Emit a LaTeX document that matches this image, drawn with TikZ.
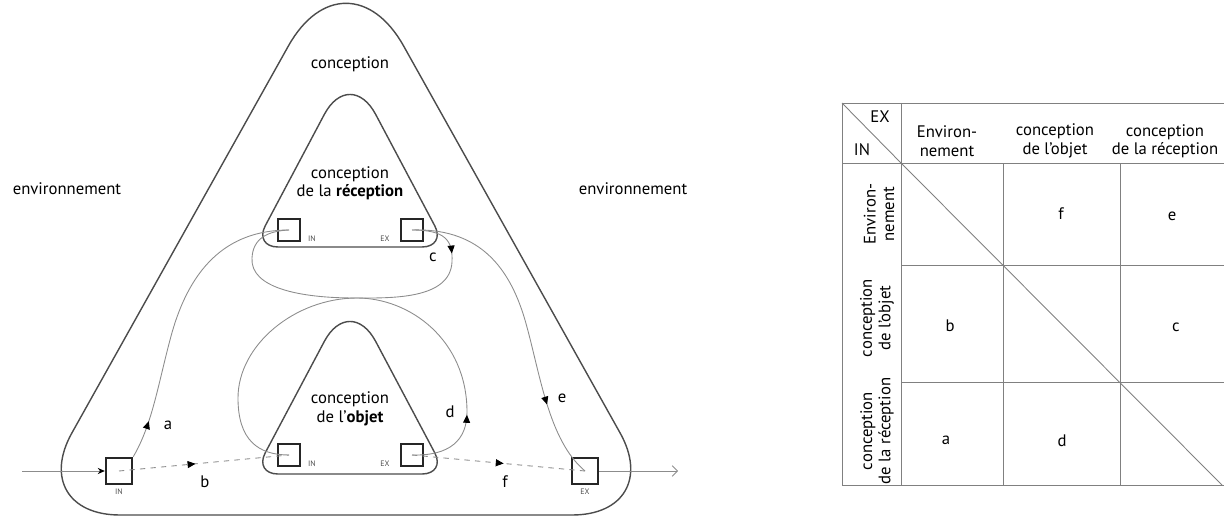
\documentclass[tikz,border=0pt]{standalone}
\usepackage{fontspec}
\setmainfont{PT Sans}
\usetikzlibrary{arrows.meta,decorations.markings,positioning}

\begin{document}
\begin{tikzpicture}[x=0.02cm,y=-0.02cm,
    every node/.style={font=\fontsize{9.5pt}{10.5pt}\selectfont},
    zone/.style={draw=black!70,line width=0.8pt},
    port/.style={draw=black!85,line width=1.1pt,minimum size=0.43cm,inner sep=0pt},
    bigport/.style={port,minimum size=0.53cm},
    tag/.style={font=\fontsize{4.5pt}{5pt}\selectfont,inner sep=0pt,text=black!70},
    flow/.style={draw=black!45,line width=0.5pt},
    midarrow/.style={postaction={decorate},decoration={markings,
        mark=at position #1 with {\arrow[black]{Triangle[length=4.5pt,width=4pt]}}}},
    tabline/.style={draw=black!50,line width=0.5pt}]
    \useasboundingbox (0,0) rectangle (1224,527);

    % zones
    \draw[zone] (346,515) [rounded corners=1.88cm] -- (26,515)
        [rounded corners=2.36cm] -- (346,-57) [rounded corners=1.88cm] -- (666,515) -- cycle;
    \draw[zone] (350,247) [rounded corners=0.48cm] -- (254,247)
        [rounded corners=1.1cm] -- (350,66) [rounded corners=0.48cm] -- (446,247) -- cycle;
    \draw[zone] (350,474) [rounded corners=0.48cm] -- (254,474)
        [rounded corners=1.1cm] -- (350,293) [rounded corners=0.48cm] -- (446,474) -- cycle;

    \node (envleft) at (67,189) {environnement};
    \node (envright) at (633,189) {environnement};
    \node (conc) at (350,64) {conception};
    \node[align=center] (rectxt) at (350,183) {conception\\de la \textbf{réception}};
    \node[align=center] (objtxt) at (350,409) {conception\\de l'\textbf{objet}};

    % ports
    \node[bigport] (envin) at (119,471) {};
    \node[bigport] (envex) at (585,471) {};
    \node[port] (recin) at (289,230) {};
    \node[port] (recex) at (412,230) {};
    \node[port] (objin) at (289,455) {};
    \node[port] (objex) at (412,455) {};
    \coordinate (axisstart) at (22,471);
    \coordinate (axisend) at (678,471);

    \node[tag,anchor=north] (envinlbl) at ([yshift=-2pt]envin.south) {IN};
    \node[tag,anchor=north] (envexlbl) at ([yshift=-2pt]envex.south) {EX};
    \node[tag,anchor=south west] (recinlbl) at ([xshift=4pt]recin.south east) {IN};
    \node[tag,anchor=south east] (recexlbl) at ([xshift=-6pt]recex.south west) {EX};
    \node[tag,anchor=south west] (objinlbl) at ([xshift=4pt]objin.south east) {IN};
    \node[tag,anchor=south east] (objexlbl) at ([xshift=-6pt]objex.south west) {EX};

    % flows
    \draw[flow,-{Stealth[black,length=4pt,width=3.5pt]}] (axisstart) -- (envin.west);
    \draw[flow,-{Straight Barb[length=3pt]}] (envex.east) -- (axisend);
    \draw[flow,midarrow=0.13] (envin.north east) .. controls (152,425) and (158,385) .. (170,340)
        .. controls (188,270) and (225,230) .. (recin.center);
    \draw[flow,dashed,midarrow=0.45] (envin.center) -- (objin.center);
    \draw[flow,midarrow=0.15] (recex.center) .. controls (445,230) and (453,240) .. (452,262)
        .. controls (450,300) and (390,298) .. (355,298)
        .. controls (300,298) and (250,288) .. (252,258)
        .. controls (253,238) and (268,231) .. (recin.center);
    \draw[flow,midarrow=0.15] (objex.center) .. controls (450,456) and (467,440) .. (467,412)
        .. controls (467,340) and (410,298) .. (357,298)
        .. controls (295,298) and (238,345) .. (238,398)
        .. controls (238,440) and (258,455) .. (objin.center);
    \draw[flow,midarrow=0.76] (recex.center) .. controls (475,228) and (508,262) .. (525,320)
        .. controls (540,372) and (548,440) .. (envex.center);
    \draw[flow,dashed,midarrow=0.53] (objex.center) -- (envex.center);

    \node (la) at (168,425) {a};
    \node (lb) at (205,482) {b};
    \node (lc) at (433,257) {c};
    \node (ld) at (450,412) {d};
    \node (le) at (562,398) {e};
    \node (lf) at (505,482) {f};

    % table
    \draw[tabline] (842,103) -- (1224,103);
    \draw[tabline] (842,163) -- (1224,163);
    \draw[tabline] (842,485) -- (1224,485);
    \draw[tabline] (842,103) -- (842,485);
    \draw[tabline] (901,103) -- (901,485);
    \draw[tabline] (901,265) -- (1224,265);
    \draw[tabline] (901,382) -- (1224,382);
    \draw[tabline] (1003,163) -- (1003,485);
    \draw[tabline] (1120,163) -- (1120,485);
    \draw[tabline] (842,103) -- (901,163);
    \draw[tabline] (901,163) -- (1222,485);

    \node (tex) at (880,117) {EX};
    \node (tin) at (862,150) {IN};
    \node[align=center] (hcenv) at (947,141) {Environ-\\nement};
    \node[align=center] (hcobj) at (1055,141) {conception\\de l'objet};
    \node[align=center] (hcrec) at (1165,141) {conception\\de la réception};
    \node[align=center,rotate=90] (hrenv) at (879,214) {Environ-\\nement};
    \node[align=center,rotate=90] (hrobj) at (877,318) {conception\\de l'objet};
    \node[align=center,rotate=90] (hrrec) at (877,431) {conception\\de la réception};

    \node (cf) at (1061,214) {f};
    \node (ce) at (1172,216) {e};
    \node (cb) at (950,326) {b};
    \node (cc) at (1176,327) {c};
    \node (ca) at (946,440) {a};
    \node (cd) at (1062,441) {d};
\end{tikzpicture}
\end{document}
